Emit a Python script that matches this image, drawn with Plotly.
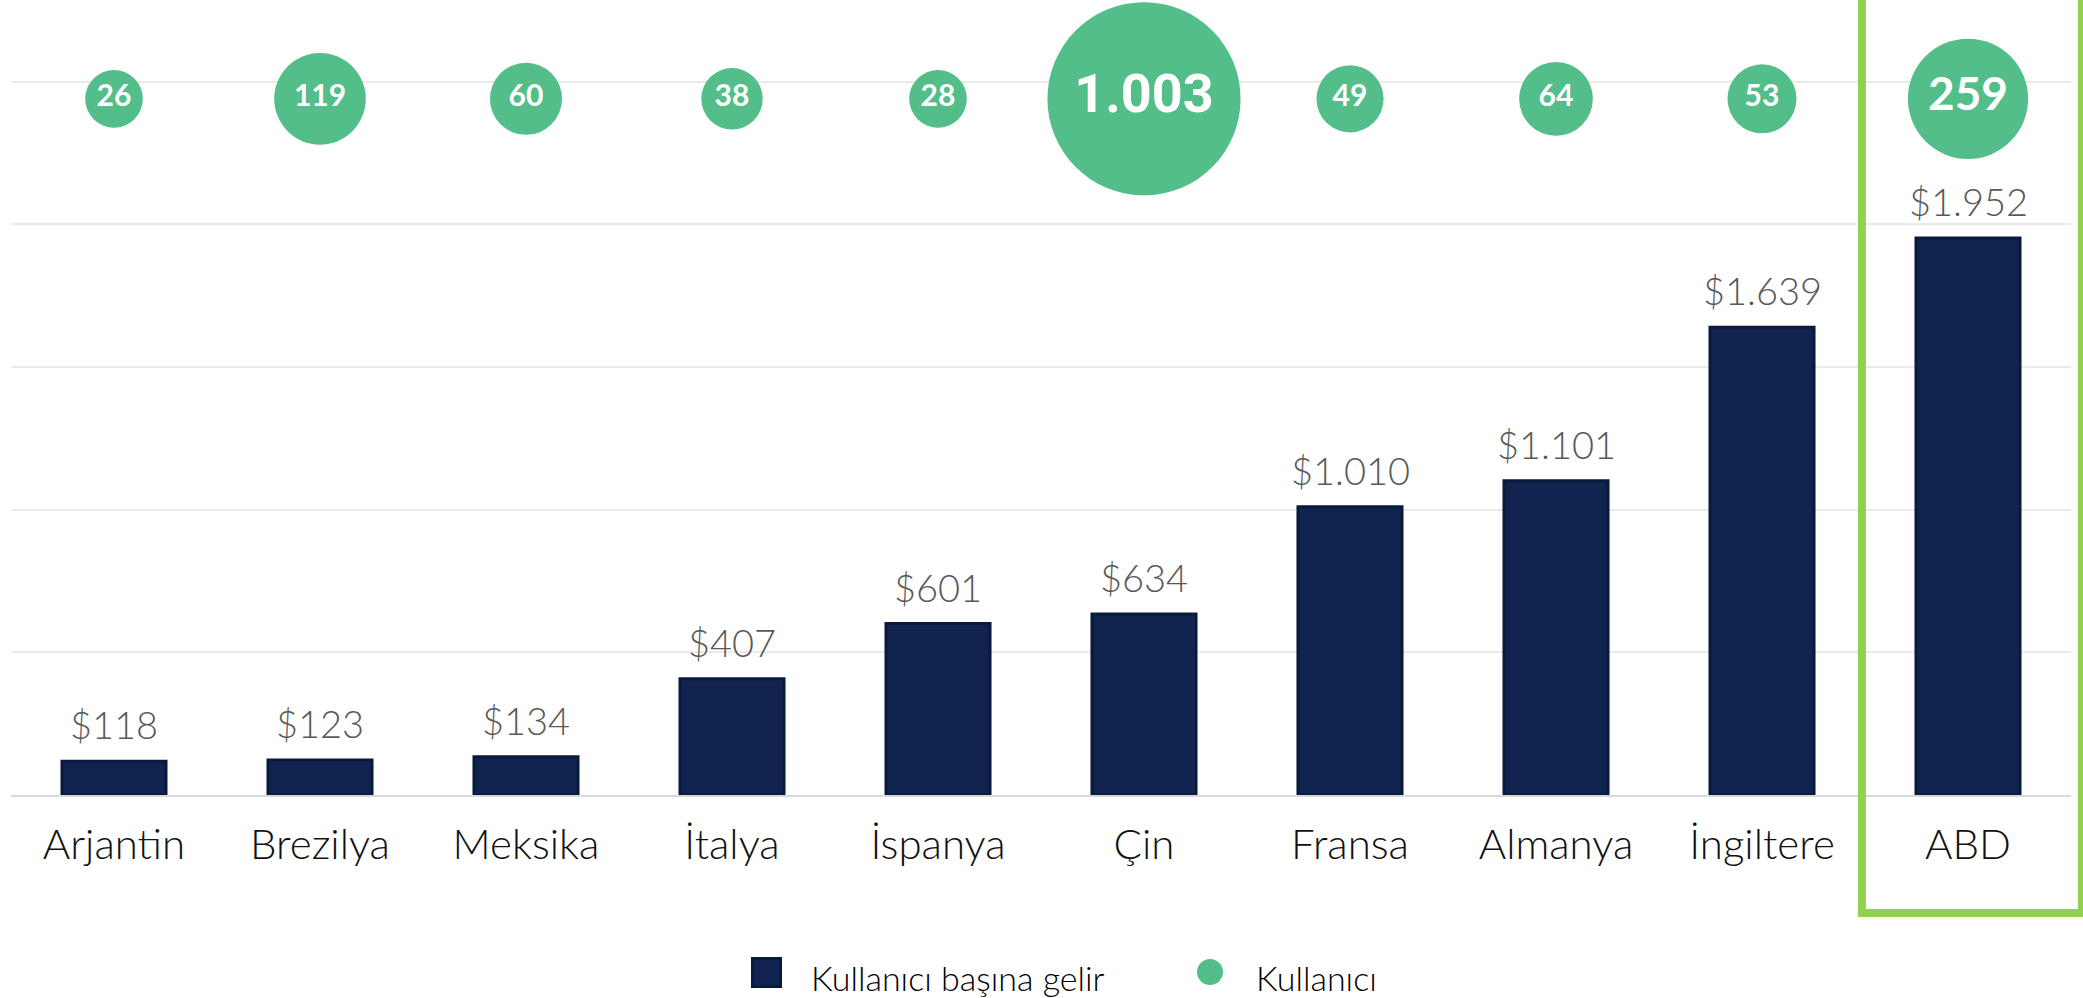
import plotly.graph_objects as go

# ---------------- data ----------------
countries = ["Arjantin", "Brezilya", "Meksika", "İtalya", "İspanya",
             "Çin", "Fransa", "Almanya", "İngiltere", "ABD"]
revenue_per_user = [118, 123, 134, 407, 601, 634, 1010, 1101, 1639, 1952]
users_millions = [26, 119, 60, 38, 28, 1003, 49, 64, 53, 259]
y_ticks = [0, 500, 1000, 1500, 2000, 2500]
legend_labels = ["Kullanıcı başına gelir", "Kullanıcı"]
highlight_country = "ABD"

# ---------------- style ----------------
NAVY = "#10244F"
NAVY_EDGE = "#0A1A3C"
GREEN = "#53BE8A"
HILITE = "#92D050"
GRID = "#EAEAEA"
LABEL_GREY = "#595959"
FONT = "Lato"

W, H = 2083, 998
ML, MR, MT, MB = 11, 12, 79, 203
PX_PER_UNIT = 0.28532
Y_MAX = (H - MT - MB) / PX_PER_UNIT
BUBBLE_LEVEL = 2440


def tr_num(v):
    return f"{v:,}".replace(",", ".")


def bubble_diameter(v):
    return max(57.7, 17.2 * v ** 0.35)


def bubble_font(v):
    return 30 if v < 200 else (46 if v < 500 else 54)


def px_to_paper_x(px):
    return (px - ML) / (W - ML - MR)


def px_to_paper_y(py):
    return (H - MB - py) / (H - MT - MB)


n = len(countries)

fig = go.Figure()

fig.add_trace(go.Bar(
    x=countries, y=revenue_per_user, name=legend_labels[0],
    marker=dict(color=NAVY, line=dict(color=NAVY_EDGE, width=3)),
    width=0.505, showlegend=False,
))

fig.add_trace(go.Scatter(
    x=countries, y=[BUBBLE_LEVEL] * n, name=legend_labels[1],
    mode="markers+text",
    marker=dict(size=[bubble_diameter(v) for v in users_millions],
                sizemode="diameter", color=GREEN, opacity=1,
                line=dict(width=0)),
    text=[tr_num(v) for v in users_millions],
    textposition="middle center",
    textfont=dict(family=[("Roboto" if v >= 500 else FONT) for v in users_millions],
                  size=[bubble_font(v) for v in users_millions],
                  color="white", weight="bold"),
    cliponaxis=False, showlegend=False, hoverinfo="skip",
))

annotations = []
for c, v in zip(countries, revenue_per_user):
    annotations.append(dict(
        x=c, y=v, xref="x", yref="y", text="$" + tr_num(v),
        showarrow=False, yanchor="bottom", yshift=12,
        font=dict(family=FONT, size=38, color=LABEL_GREY, weight=300),
    ))

# manual legend
shapes = []
shapes.append(dict(type="rect", xref="paper", yref="paper",
                   x0=px_to_paper_x(752.5), x1=px_to_paper_x(780.5),
                   y0=px_to_paper_y(986.5), y1=px_to_paper_y(958.5),
                   fillcolor=NAVY, line=dict(color=NAVY_EDGE, width=3)))
shapes.append(dict(type="circle", xref="paper", yref="paper",
                   x0=px_to_paper_x(1197), x1=px_to_paper_x(1223),
                   y0=px_to_paper_y(985), y1=px_to_paper_y(959),
                   fillcolor=GREEN, line=dict(width=0)))
annotations.append(dict(x=px_to_paper_x(809), y=px_to_paper_y(977.5),
                        xref="paper", yref="paper", text=legend_labels[0],
                        showarrow=False, xanchor="left", yanchor="middle",
                        font=dict(family=FONT, size=34, color="#000000", weight=300)))
annotations.append(dict(x=px_to_paper_x(1254), y=px_to_paper_y(977.5),
                        xref="paper", yref="paper", text=legend_labels[1],
                        showarrow=False, xanchor="left", yanchor="middle",
                        font=dict(family=FONT, size=34, color="#000000", weight=300)))

# highlight box around the selected country
idx = countries.index(highlight_country)
shapes.append(dict(type="rect", xref="paper", yref="paper",
                   x0=(idx + 0.5 - 0.515) / n, x1=(idx + 0.5 + 0.553) / n,
                   y0=px_to_paper_y(913), y1=1.3,
                   line=dict(color=HILITE, width=8), fillcolor="rgba(0,0,0,0)",
                   layer="above"))

fig.update_layout(
    width=W, height=H,
    margin=dict(l=ML, r=MR, t=MT, b=MB, pad=0),
    plot_bgcolor="white", paper_bgcolor="white",
    separators=",.",
    font=dict(family=FONT, color="#000000"),
    xaxis=dict(type="category", categoryorder="array", categoryarray=countries,
               range=[-0.5, n - 0.5], showgrid=False, zeroline=False,
               showline=True, linecolor="#D9D9D9", linewidth=2,
               ticks="", ticklabelstandoff=12,
               tickfont=dict(family=FONT, size=42, color="#111111", weight=300)),
    yaxis=dict(range=[0, Y_MAX], tickvals=y_ticks, showticklabels=False,
               showgrid=True, gridcolor=GRID, gridwidth=2, zeroline=False,
               showline=False),
    shapes=shapes,
    annotations=annotations,
    showlegend=False,
)

fig.write_html("out.html", config={"displayModeBar": False},
               post_script="document.body.style.margin='0';")
